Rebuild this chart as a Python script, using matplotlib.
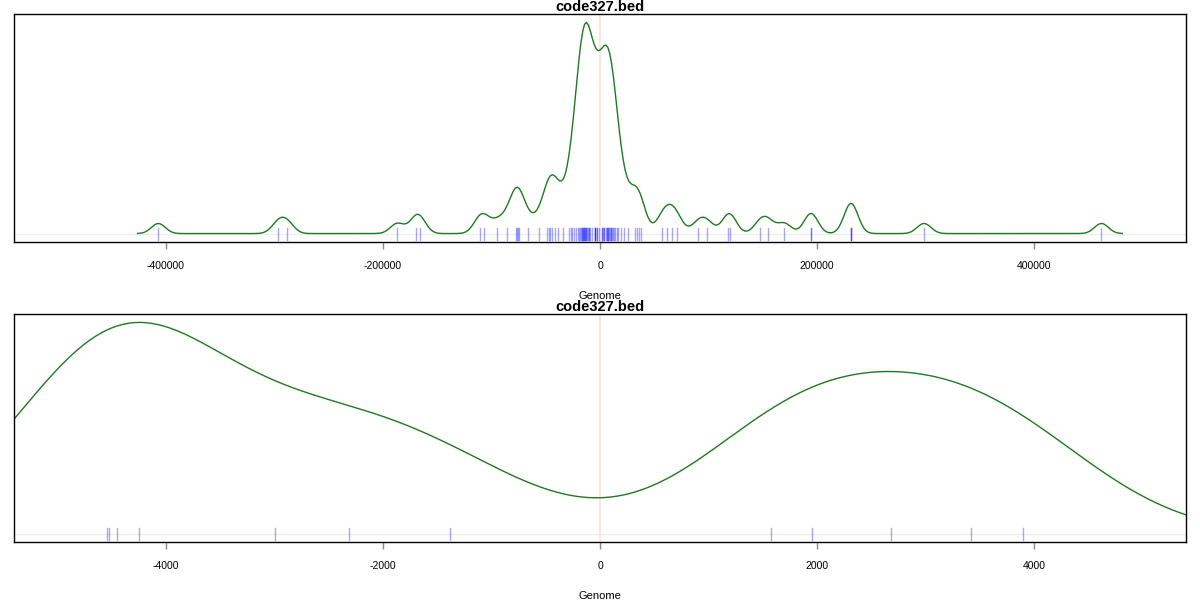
import matplotlib
matplotlib.use("Agg")
import matplotlib.pyplot as plt
import numpy as np

plt.rcParams['font.family'] = ['Liberation Sans', 'DejaVu Sans']

title = "code327.bed"
xlabel = "Genome"

# peak positions relative to the site (bp)
left_pos = [-407000, -296500, -288200, -186800, -170000, -165900, -111000, -106700,
            -94600, -85400, -77700, -76800, -76000, -74400, -66100, -55900,
            -48600, -47300, -45800, -44200, -41700, -38400, -34400, -28300,
            -26700, -25400, -23700, -21700, -20700, -19800,
            -18200, -17500, -16900, -16200, -15800, -15400, -14700, -14300,
            -14000, -13500, -13000, -12600, -12000, -11300, -10300, -9900,
            -8900, -7400]
# the ones inside the +-5.4kb zoom window (bottom panel)
center_pos = [-4541, -4523, -4449, -4246, -2993, -2311, -1380,
              1578, 1952, 2686, 3419, 3898]
right_pos = [5800, 6500, 6800, 7100, 7600, 8300, 8900, 9700,
             10400, 11100, 12000, 12900, 13800, 15400, 16900,
             19400, 22400, 26100, 32300, 33800, 35700, 37500, 56700, 61500,
             66600, 71200, 90600, 98900, 118000, 120100, 147700, 155100,
             169900, 194200, 194700, 231000, 231300, 231700, 298600, 462100]

top_bw = 6400
top_xlim = 540000
top_ticks = [-400000, -200000, 0, 200000, 400000]

zoom_bw = 930
zoom_xlim = 5400
zoom_ticks = [-4000, -2000, 0, 2000, 4000]


def density(pos, bw, n=512):
    pos = np.asarray(pos, dtype=float)
    grid = np.linspace(pos.min() - 3*bw, pos.max() + 3*bw, n)
    d = (grid[:, None] - pos[None, :]) / bw
    y = np.exp(-0.5*d**2).sum(axis=1) / (len(pos)*bw*np.sqrt(2*np.pi))
    return grid, y


def panel(ax, pos, bw, lim, ticks):
    x, y = density(pos, bw)
    m = y.max()
    ax.axvline(0, color='#ffe4e4', lw=1.5, zorder=0)
    ax.axhline(0, color='#eeeeee', lw=1, zorder=0)
    ax.plot(x, y, color='#1e7a1e', lw=1)
    for p in pos:
        if -lim < p < lim:
            ax.plot([p, p], [0.01, 0.06], color='blue', alpha=0.35, lw=1,
                    transform=ax.get_xaxis_transform())
    ax.set_xlim(-lim, lim)
    ax.set_ylim(-0.04*m, 1.04*m)
    ax.set_yticks([])
    ax.set_xticks(ticks)
    ax.set_xticklabels([str(t) for t in ticks])
    ax.tick_params(axis='x', length=5, width=1, color='#888888', pad=9, labelsize=7.5)
    ax.set_xlabel(xlabel, fontsize=8, labelpad=14)
    ax.set_title(title, fontsize=10.5, fontweight='bold', pad=1.5)
    for s in ax.spines.values():
        s.set_linewidth(1)


fig = plt.figure(figsize=(12, 6), dpi=100)
ax1 = fig.add_axes([14/1200, 1 - 242/600, 1172/1200, 228/600])
ax2 = fig.add_axes([14/1200, 1 - 542/600, 1172/1200, 228/600])

all_pos = left_pos + center_pos + right_pos
panel(ax1, all_pos, top_bw, top_xlim, top_ticks)
panel(ax2, center_pos, zoom_bw, zoom_xlim, zoom_ticks)

fig.savefig("out.png", dpi=100)
